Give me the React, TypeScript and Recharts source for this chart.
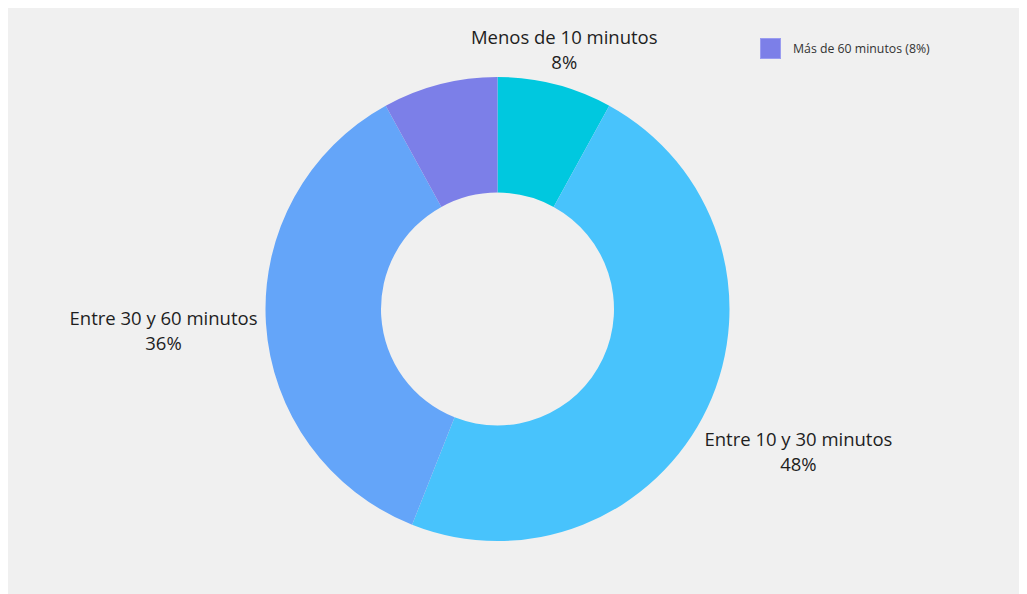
import React from "react";
import { PieChart, Pie, Cell, Legend } from "recharts";

const categories = [
  "Menos de 10 minutos",
  "Entre 10 y 30 minutos",
  "Entre 30 y 60 minutos",
  "Más de 60 minutos",
];
const responses = [2, 12, 9, 2];
const sliceColors = ["#00C8DF", "#48C3FC", "#64A5F9", "#7C7FE8"];
// this slice is shown in the legend instead of beside the ring
const legendShown = ["Más de 60 minutos"];

const total = responses.reduce((a, b) => a + b, 0);
const data = categories.map((name, i) => ({ name, value: responses[i] }));

const FONT = '"Open Sans", sans-serif';
const LABEL_SIZE = 18.5;
const RAD = Math.PI / 180;

const pctOf = (v: number) => `${Math.round((v / total) * 100)}%`;

let ctx: CanvasRenderingContext2D | null = null;
function textWidth(s: string) {
  if (!ctx) ctx = document.createElement("canvas").getContext("2d");
  if (!ctx) return s.length * LABEL_SIZE * 0.53;
  ctx.font = `${LABEL_SIZE}px "Open Sans"`;
  return ctx.measureText(s).width;
}

// distance from the pie centre to a box of half size hw x hh centred at (x, y)
function boxDist(x: number, y: number, hw: number, hh: number) {
  const dx = Math.max(0, Math.abs(x) - hw);
  const dy = Math.max(0, Math.abs(y) - hh);
  return Math.hypot(dx, dy);
}

function renderLabel(props: any) {
  const { cx, cy, midAngle, outerRadius, name, value } = props;
  if (legendShown.includes(name)) return null;
  const pct = pctOf(value);
  const hw = Math.max(textWidth(name), textWidth(pct)) / 2;
  const hh = 20;
  const ux = Math.cos(-midAngle * RAD);
  const uy = Math.sin(-midAngle * RAD);
  const target = outerRadius + 8;
  // push the label box out along the slice's mid ray until it clears the ring
  let lo = 0;
  let hi = outerRadius + 400;
  for (let k = 0; k < 40; k++) {
    const m = (lo + hi) / 2;
    if (boxDist(m * ux, m * uy, hw, hh) < target) lo = m;
    else hi = m;
  }
  const bx = cx + hi * ux;
  const by = cy + hi * uy;
  return (
    <text textAnchor="middle" fill="#1e1e1e" fontSize={LABEL_SIZE} fontFamily={FONT}>
      <tspan x={bx} y={by - 12.5} dominantBaseline="central">{name}</tspan>
      <tspan x={bx} y={by + 12.5} dominantBaseline="central">{pct}</tspan>
    </text>
  );
}

function renderLegend(props: any) {
  const items = (props.payload || []).filter((p: any) => legendShown.includes(p.value));
  return (
    <div>
      {items.map((p: any) => {
        const i = categories.indexOf(p.value);
        return (
          <div key={p.value} style={{ display: "flex", alignItems: "center" }}>
            <span
              style={{
                width: 21,
                height: 21,
                background: sliceColors[i],
                boxSizing: "border-box",
                border: "1px solid #9a9cf0",
              }}
            />
            <span style={{ marginLeft: 12, fontSize: 12.3, color: "#333", fontFamily: FONT }}>
              {p.value} ({pctOf(responses[i])})
            </span>
          </div>
        );
      })}
    </div>
  );
}

export default function App() {
  return (
    <div style={{ width: 1012, height: 587, background: "#f0f0f0", margin: "-1px 0 0 -1px" }}>
      <PieChart width={1012} height={587} margin={{ top: 0, right: 0, bottom: 0, left: 0 }}>
        <Pie
          data={data}
          dataKey="value"
          nameKey="name"
          cx={490.5}
          cy={302}
          innerRadius={116.5}
          outerRadius={232}
          startAngle={90}
          endAngle={-270}
          stroke="none"
          label={renderLabel}
          labelLine={false}
          isAnimationActive={false}
        >
          {data.map((d, i) => (
            <Cell key={d.name} fill={sliceColors[i]} />
          ))}
        </Pie>
        <Legend
          content={renderLegend}
          layout="horizontal"
          verticalAlign="middle"
          align="center"
          wrapperStyle={{ left: 753, top: 31, width: 240 }}
        />
      </PieChart>
    </div>
  );
}
